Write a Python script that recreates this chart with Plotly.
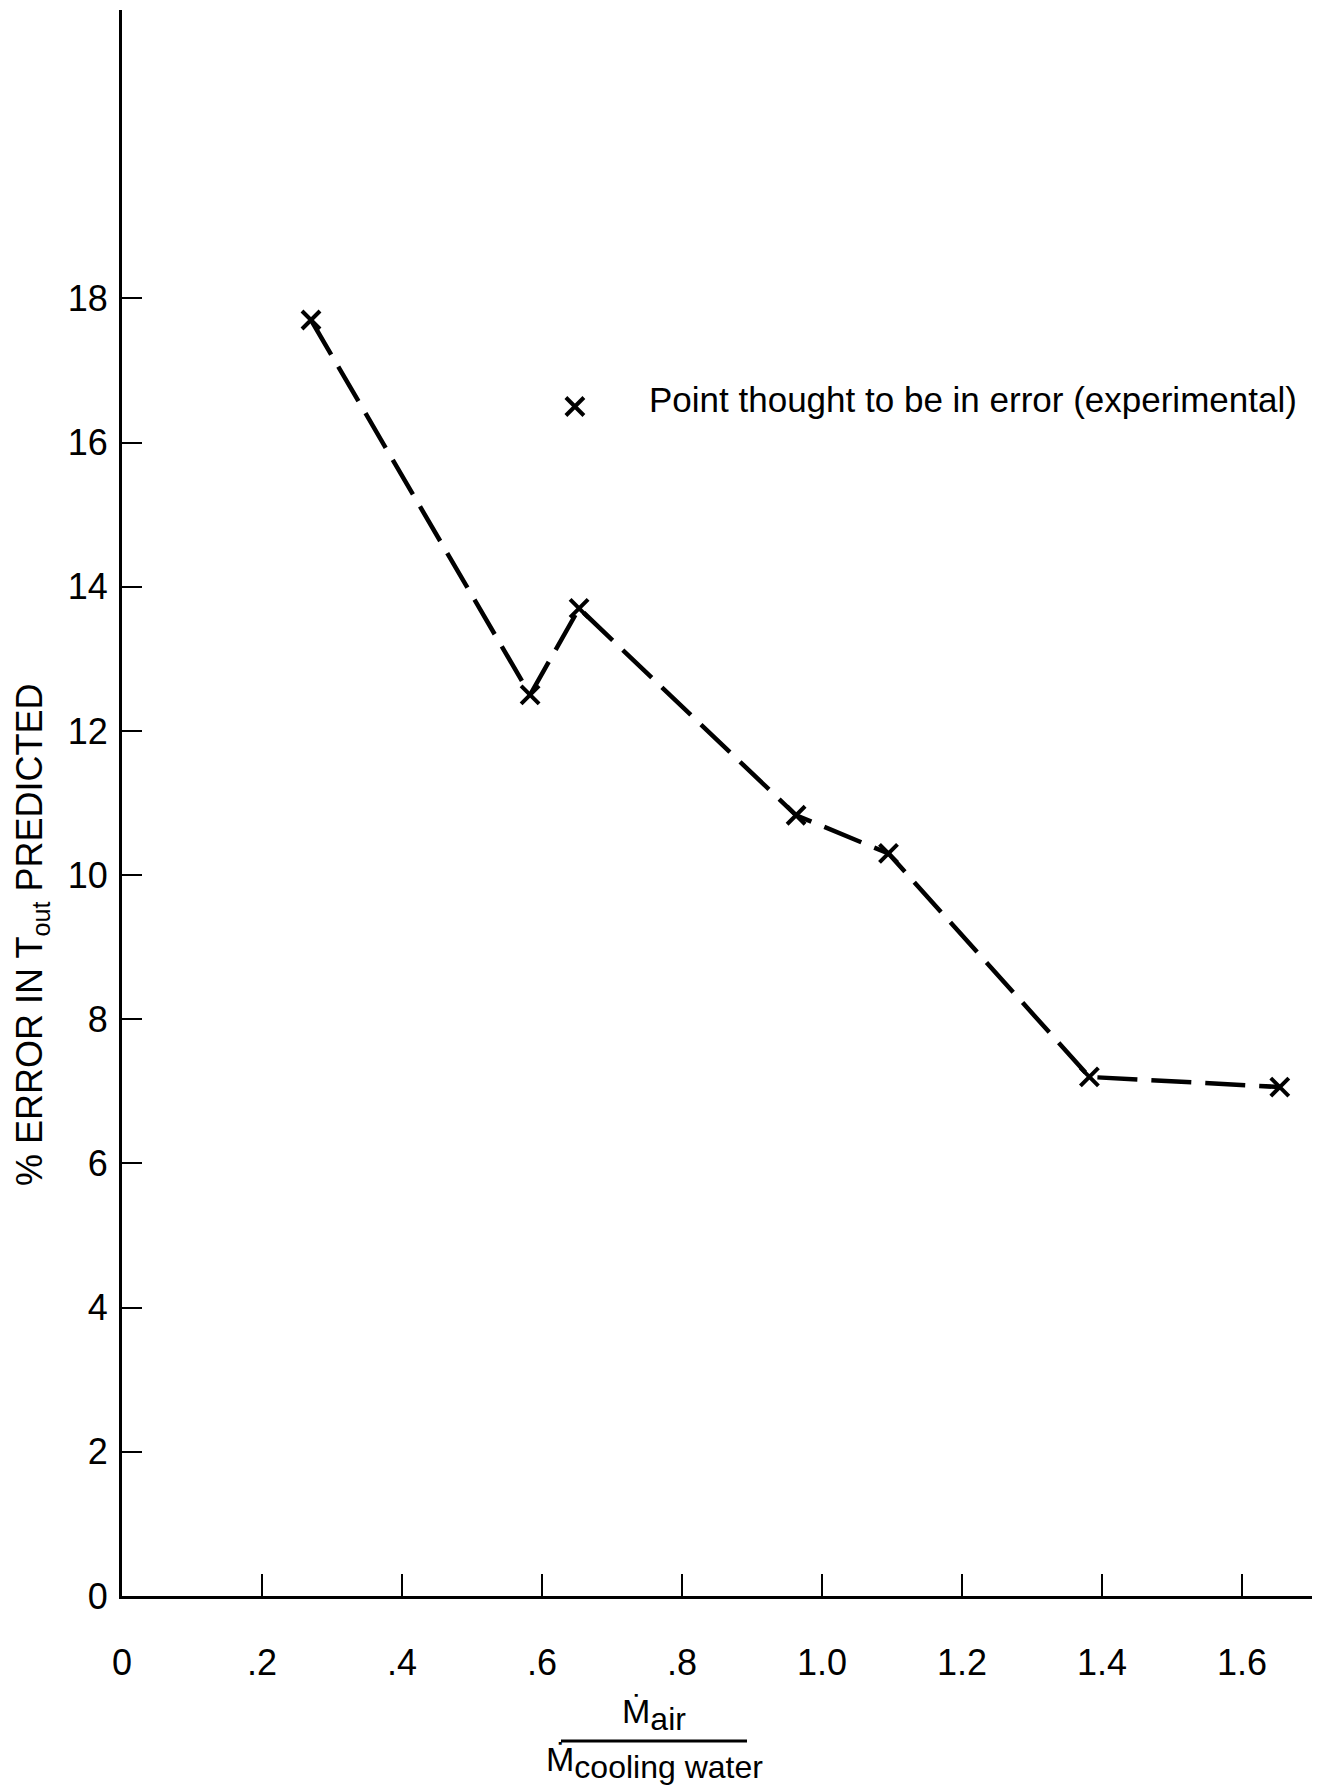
import plotly.graph_objects as go

# Data
mass_ratio = [0.27, 0.583, 0.653, 0.963, 1.095, 1.382, 1.654]
pct_error = [17.7, 12.5, 13.7, 10.83, 10.3, 7.2, 7.06]
outlier_ratio = [0.647]
outlier_error = [16.5]

x_tickvals = [0, 0.2, 0.4, 0.6, 0.8, 1.0, 1.2, 1.4, 1.6]
x_ticktext = ["0", ".2", ".4", ".6", ".8", "1.0", "1.2", "1.4", "1.6"]
y_tickvals = [0, 2, 4, 6, 8, 10, 12, 14, 16, 18]
y_ticktext = ["0", "2", "4", "6", "8", "10", "12", "14", "16", "18"]

FONT = "Liberation Sans"

fig = go.Figure()
fig.add_trace(go.Scatter(
    x=mass_ratio, y=pct_error, mode="lines+markers",
    line=dict(color="black", width=4.5, dash="40px,14px"),
    marker=dict(symbol="x-thin", size=18, color="black",
                line=dict(color="black", width=4)),
    showlegend=False, hoverinfo="skip"))
fig.add_trace(go.Scatter(
    x=outlier_ratio, y=outlier_error, mode="markers",
    marker=dict(symbol="x-thin", size=18, color="black",
                line=dict(color="black", width=4)),
    showlegend=False, hoverinfo="skip"))

fig.update_layout(
    width=1320, height=1789,
    margin=dict(l=122, r=8, t=10, b=193),
    paper_bgcolor="white", plot_bgcolor="white",
    font=dict(family=FONT, color="black", size=34),
    xaxis=dict(range=[0, 1.70], showgrid=False, zeroline=False,
               showline=True, linecolor="black", linewidth=3,
               ticks="inside", ticklen=22, tickwidth=2, tickcolor="black",
               tickvals=x_tickvals, ticktext=x_ticktext,
               tickfont=dict(size=36, family=FONT),
               ticklabelstandoff=33),
    yaxis=dict(range=[0, 22], showgrid=False, zeroline=False,
               showline=True, linecolor="black", linewidth=3,
               ticks="inside", ticklen=20, tickwidth=2, tickcolor="black",
               tickvals=y_tickvals, ticktext=y_ticktext,
               tickfont=dict(size=36, family=FONT),
               ticklabelstandoff=4),
)

annotations = [
    dict(text="Point thought to be in error (experimental)",
         xref="x", yref="y", x=0.75, y=16.6, xanchor="left", yanchor="middle",
         showarrow=False, font=dict(size=35, family=FONT)),
    dict(text="% ERROR IN T<sub>out</sub> PREDICTED",
         xref="paper", yref="paper", x=0, xshift=-90, y=0.4168,
         xanchor="center", yanchor="middle", textangle=-90,
         showarrow=False, font=dict(size=36, family=FONT)),
    dict(text="Ṁ<sub><span style='font-size:32px'>air</span></sub>",
         xref="paper", yref="paper",
         x=(654 - 122) / 1190, y=-(1714 - 1596) / 1586,
         xanchor="center", yanchor="middle", showarrow=False,
         font=dict(size=34, family=FONT)),
    dict(text="Ṁ<sub><span style='font-size:32px'>cooling water</span></sub>",
         xref="paper", yref="paper",
         x=(654 - 122) / 1190, y=-(1762 - 1596) / 1586,
         xanchor="center", yanchor="middle", showarrow=False,
         font=dict(size=34, family=FONT)),
]
fig.update_layout(annotations=annotations)
fig.add_shape(type="line", xref="paper", yref="paper",
              x0=(561 - 122) / 1190, x1=(747 - 122) / 1190,
              y0=-(1741 - 1596) / 1586, y1=-(1741 - 1596) / 1586,
              line=dict(color="black", width=3))

fig.write_html("out.html")
